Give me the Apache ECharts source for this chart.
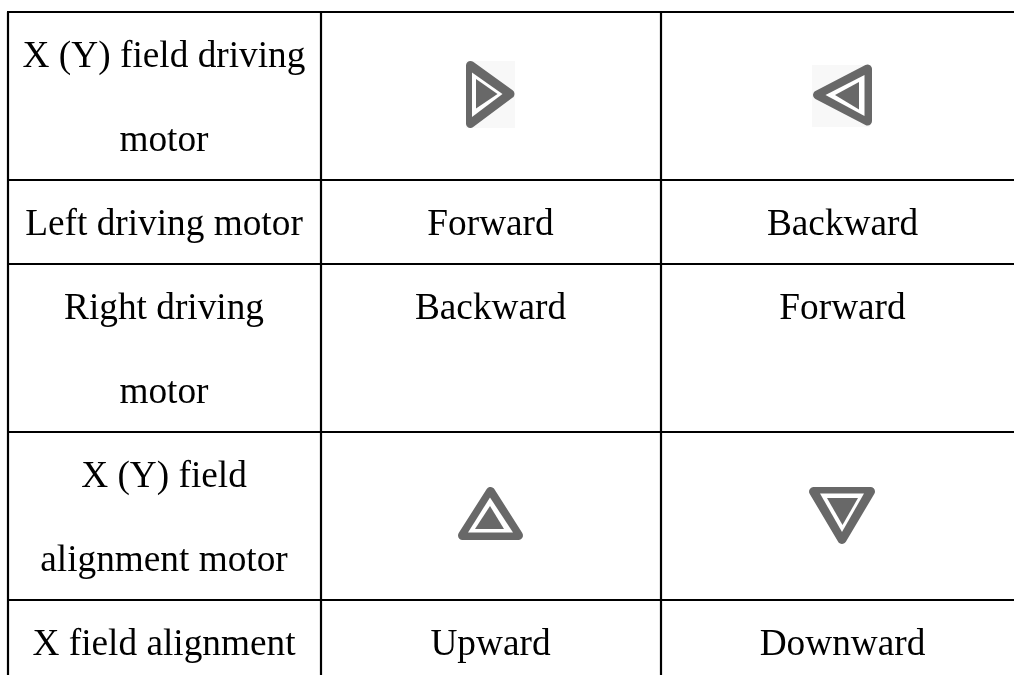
<!DOCTYPE html>
<html><head><meta charset="utf-8">
<style>html,body{margin:0;padding:0;background:#fff;overflow:hidden}#c{width:1014px;height:675px}</style>
<script src="https://cdn.jsdelivr.net/npm/echarts@6/dist/echarts.min.js"></script>
</head><body><div id="c"></div>
<script>
// Table content
const headerColumn = ["X (Y) field driving\nmotor","Left driving motor","Right driving\nmotor","X (Y) field\nalignment motor","X field alignment"];
const firstColumn  = ["","Forward","Backward","","Upward"];
const secondColumn = ["","Backward","Forward","","Downward"];
const iconKinds    = [["right","left"],null,null,["up","down"],null];

// Layout (pixel-unit plot space)
const colEdges = [8,321,661,1014];
const rowEdges = [12,180,264,432,600];
const rowFirstLine = [0,2,3,5,7];   // first text line slot of each row
const colCenters = [164,490.5,842.5];
const LINE0 = 57, LH = 84;

const ICONS = {
  right:{bg:[466,61,49,67],outer:[[470.5,65.5],[510,94],[470.5,123.5]],ring:[[472,72.5],[502.5,94],[472,117]],inner:[[476,79],[497.5,94],[476,108.5]]},
  left:{bg:[812,65,58,62],outer:[[817.5,95],[867.5,69],[867.5,121]],ring:[[825.5,95],[864.5,75],[864.5,116]],inner:[[835,95],[859,82],[859,109.5]]},
  up:{outer:[[490.5,491.5],[518.5,535.5],[462.5,535.5]],ring:[[490,497.5],[513,532.5],[468,532.5]],inner:[[490,506],[504,529],[475,529]]},
  down:{outer:[[813.5,491.5],[870.5,491.5],[842,539.5]],ring:[[820,493.5],[864,493.5],[842,532]],inner:[[827,498],[858,498],[842.5,525]]}
};

const textData=[];
[headerColumn,firstColumn,secondColumn].forEach((col,c)=>col.forEach((t,r)=>{
  if(!t)return;
  t.split('\n').forEach((line,i)=>textData.push({value:[colCenters[c],LINE0+LH*(rowFirstLine[r]+i)],text:line}));
}));

const chart=echarts.init(document.getElementById('c'),null,{renderer:'canvas'});
const iconList=[];iconKinds.forEach(k=>{if(k)k.forEach(n=>iconList.push([n]));});

chart.setOption({
  animation:false,
  backgroundColor:'#fff',
  grid:{left:0,right:0,top:0,bottom:0},
  xAxis:{type:'value',min:0,max:1014,show:false},
  yAxis:{type:'value',min:0,max:675,inverse:true,show:false},
  series:[
    {type:'custom',coordinateSystem:'cartesian2d',silent:true,z:1,
     data:[[0]],
     renderItem(p,api){
       const ch=[];
       rowEdges.forEach(y=>{const a=api.coord([colEdges[0],y]),b=api.coord([1014,y]);
         ch.push({type:'line',shape:{x1:a[0]-1,y1:a[1],x2:b[0],y2:b[1]},style:{stroke:'#000',lineWidth:2.2}});});
       colEdges.slice(0,3).forEach(x=>{const a=api.coord([x,12]),b=api.coord([x,675]);
         ch.push({type:'line',shape:{x1:a[0],y1:a[1],x2:b[0],y2:b[1]},style:{stroke:'#000',lineWidth:2.2}});});
       return {type:'group',children:ch};
     }},
    {type:'custom',coordinateSystem:'cartesian2d',silent:true,z:2,
     data:iconList,
     renderItem(p,api){
       const ic=ICONS[iconList[p.dataIndex][0]];const ch=[];
       const P=v=>v.map(q=>api.coord(q));
       if(ic.bg){const a=api.coord([ic.bg[0],ic.bg[1]]);ch.push({type:'rect',shape:{x:a[0],y:a[1],width:ic.bg[2],height:ic.bg[3]},style:{fill:'#f8f8f8'}});}
       ch.push({type:'polygon',shape:{points:P(ic.outer)},style:{fill:'#686868',stroke:'#686868',lineWidth:9,lineJoin:'round'}});
       ch.push({type:'polygon',shape:{points:P(ic.ring)},style:{fill:'#fff'}});
       ch.push({type:'polygon',shape:{points:P(ic.inner)},style:{fill:'#686868'}});
       return {type:'group',children:ch};
     }},
    {type:'scatter',z:3,symbolSize:0,silent:true,data:textData,
     itemStyle:{opacity:1},
     label:{show:true,position:'inside',align:'center',verticalAlign:'middle',
       formatter:p=>p.data.text,color:'#000',opacity:1,textBorderWidth:0,
       fontFamily:'"Liberation Serif"',fontSize:37.3,lineHeight:42}}
  ]
});
</script></body></html>
